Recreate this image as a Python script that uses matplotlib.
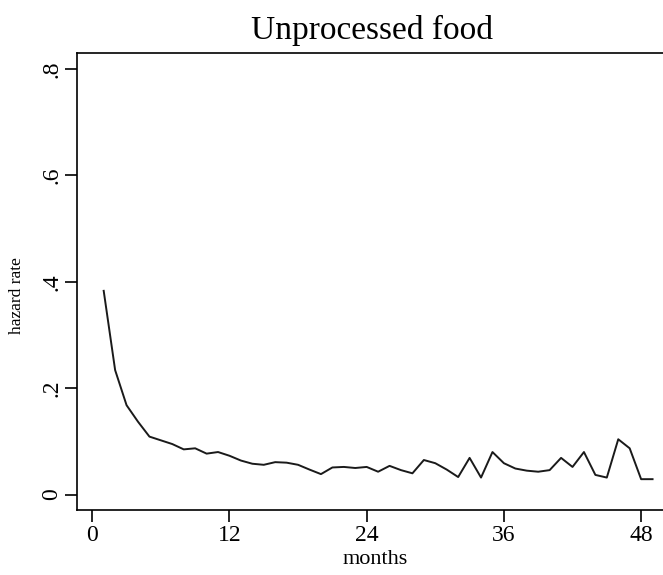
from matplotlib import pyplot as plt
import numpy as np

plt.rcParams['font.family'] = ['Liberation Serif', 'DejaVu Serif']

# monthly hazard rate
months = np.arange(1, 50)
hazard = [0.383, 0.234, 0.168, 0.137, 0.109, 0.102, 0.095, 0.085, 0.087, 0.077,
          0.080, 0.073, 0.064, 0.058, 0.056, 0.061, 0.060, 0.056, 0.047, 0.0385,
          0.051, 0.052, 0.050, 0.052, 0.043, 0.054, 0.046, 0.040, 0.065, 0.059,
          0.047, 0.033, 0.069, 0.032, 0.080, 0.059, 0.049, 0.045, 0.043, 0.046,
          0.069, 0.052, 0.080, 0.037, 0.032, 0.104, 0.087, 0.029, 0.029]

xticks = [0, 12, 24, 36, 48]
yticks = [0, 0.2, 0.4, 0.6, 0.8]
yticklabels = ['0', '.2', '.4', '.6', '.8']

fig = plt.figure(figsize=(6.63, 5.75), dpi=100)
ax = fig.add_axes([0.1157, 0.113, 0.892, 0.7948])

ax.plot(months, hazard, color='#1a1a1a', lw=1.4)

ax.set_xlim(-1.36, 50.36)
ax.set_ylim(-0.029, 0.830)
ax.set_xticks(xticks)
ax.set_xticklabels([str(t) for t in xticks], fontsize=17)
ax.set_yticks(yticks)
ax.set_yticklabels(yticklabels, fontsize=17, rotation=90, va='center')
ax.tick_params(direction='out', length=8.5, width=1.2, pad=2)

for s in ax.spines.values():
    s.set_linewidth(1.2)

ax.set_title('Unprocessed food', fontsize=24, pad=10)
ax.set_xlabel('months', fontsize=16)
ax.xaxis.set_label_coords(0.504, -0.088)
ax.set_ylabel('hazard rate', fontsize=12.5)
ax.yaxis.set_label_coords(-0.088, 0.47)

fig.savefig('out.png', dpi=100)
